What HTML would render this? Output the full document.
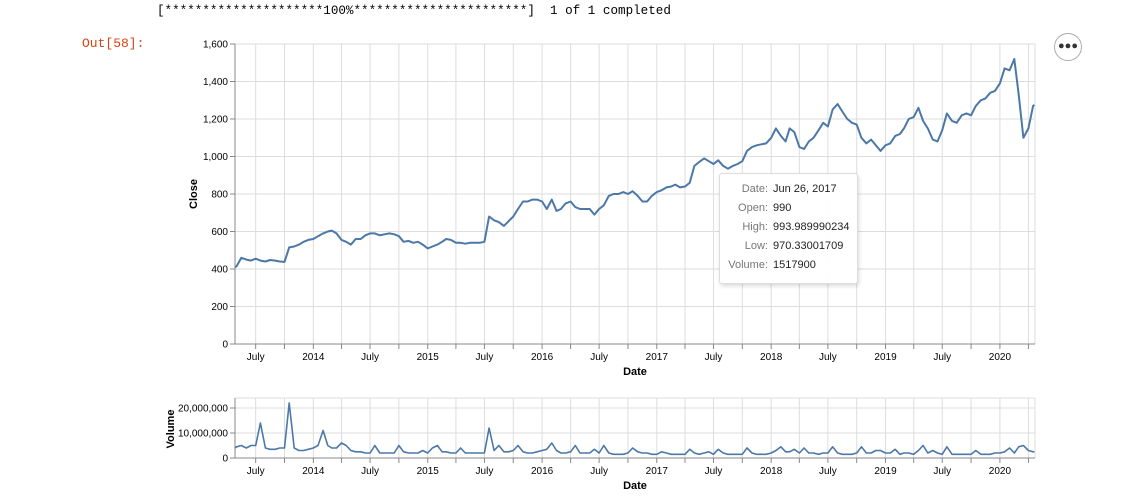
<!DOCTYPE html>
<html><head><meta charset="utf-8">
<style>
body{margin:0;background:#fff;width:1136px;height:499px;overflow:hidden;position:relative;font-family:"Liberation Sans",sans-serif;}
.hdr{position:absolute;left:157px;top:4px;font-family:"Liberation Mono",monospace;font-size:12.6px;color:#000;white-space:pre;}
.out{position:absolute;left:82px;top:36px;font-family:"Liberation Mono",monospace;font-size:13px;color:#d84315;}
.menu{position:absolute;left:1054px;top:33px;width:26px;height:26px;border:1px solid #aaa;border-radius:50%;background:#fff;text-align:center;line-height:25px;font-size:11px;font-weight:bold;letter-spacing:0px;color:#333;}
.tip{position:absolute;left:719px;top:173px;width:137px;height:109px;background:rgba(255,255,255,0.96);border:1px solid #ddd;border-radius:3px;box-shadow:1px 2px 4px rgba(0,0,0,0.15);font-size:11px;}
.tip div{position:absolute;left:0;width:100%;height:16px}
.tip .k{position:absolute;right:89px;color:#777;}
.tip .v{position:absolute;left:53px;color:#222;}
</style></head><body>
<div class="hdr">[*********************100%***********************]  1 of 1 completed</div>
<div class="out">Out[58]:</div>
<div class="menu">●●●</div>
<svg id="chart" width="1136" height="499" style="position:absolute;left:0;top:0"></svg>
<div class="tip">
<div style="top:9px"><span class="k">Date:</span><span class="v">Jun 26, 2017</span></div>
<div style="top:28px"><span class="k">Open:</span><span class="v">990</span></div>
<div style="top:47px"><span class="k">High:</span><span class="v">993.989990234</span></div>
<div style="top:66px"><span class="k">Low:</span><span class="v">970.33001709</span></div>
<div style="top:85px"><span class="k">Volume:</span><span class="v">1517900</span></div>
</div>
<script>
const closeVals = [410,
415,460, 450,445, 455,445, 440,448, 445,440, 438,515, 520,530, 545,555,
560,575, 590,600, 605,590, 555,545, 530,560, 560,580, 590,590, 580,585, 590,585, 575,545, 550,540, 545,530,
510,520, 530,545, 560,555, 540,540, 535,540, 540,540, 545,680, 660,650, 630,655, 680,720, 760,760, 770,770,
760,720, 770,710, 720,750, 760,730, 720,720, 720,690, 720,740, 790,800, 800,810, 800,815, 790,760, 760,790,
810,820, 835,840, 850,835, 840,860, 950,970, 990,975, 960,980, 950,935, 950,960, 975,1030, 1050,1060, 1065,1070,
1100,1150, 1110,1080, 1150,1130, 1050,1040, 1080,1100, 1140,1180, 1160,1250, 1280,1240, 1200,1180, 1170,1100, 1070,1090, 1060,1030,
1060,1070, 1110,1120, 1150,1200, 1210,1260, 1190,1150, 1090,1080, 1140,1230, 1190,1180, 1220,1230, 1220,1270, 1300,1310, 1340,1350,
1390,1470, 1460,1520, 1330,1100, 1150,1270,
1275];
const volumeM = [4,
4.5,5, 4,5, 5,14, 4,3.5, 3.5,4, 4,22, 4,3, 3,3.5,
4,5, 11,5, 4,4, 6,5, 3,2.5, 2.5,2, 2,5, 2,2, 2,2, 5,2.5, 2,2, 2,3,
2,4, 5,2.5, 2.5,2, 2,4, 2,2, 2,2, 2,12, 3,5, 2.5,2.5, 3,5, 2.5,2, 2,2.5,
3,3.5, 6,3, 2,2, 2.5,5, 2,2, 2,3.5, 2,5, 2,1.5, 1.5,1.5, 2,4, 2.5,2, 2,1.5,
1.5,2.5, 2,1.5, 1.5,1.5, 1.5,3.5, 2,1.5, 2,2.5, 1.5,3.5, 2,1.5, 1.5,1.5, 1.5,4, 2,1.5, 1.5,1.5,
2,3, 4.5,2.5, 2.5,3.5, 2,4, 2,2, 1.5,2, 2,4.5, 2,1.5, 1.5,1.5, 2,4.5, 2,2, 3,3,
2,2, 3.5,1.5, 2,2, 1.5,3, 5,2, 3,2, 1.5,4.5, 1.5,1.5, 1.5,1.5, 1.5,3, 1.5,1.5, 1.5,2,
2,2.5, 4,2, 4.5,5, 3,2.5,
2.5];
const closeTicks = [0,200,400,600,800,1000,1200,1400,1600];
const volTicks = [0,10000000,20000000];
const startDate = "2013-04-26", endDate = "2020-04-20";

const dates = [new Date(startDate)];
for (let y = 2013, m = 4; !(y === 2020 && m === 4); ) {
  dates.push(new Date(Date.UTC(y, m, 1)));
  dates.push(new Date(Date.UTC(y, m, 16)));
  m++; if (m === 12) { m = 0; y++; }
}
dates.push(new Date(endDate));

const svg = document.getElementById('chart');
const NS = 'http://www.w3.org/2000/svg';
const t0 = new Date(startDate).getTime(), t1 = new Date("2020-04-22").getTime();
const X0 = 235, X1 = 1035;
const xs = d => X0 + (d.getTime() - t0) / (t1 - t0) * (X1 - X0);
const yMain = v => 344 - v / 1600 * 300;
const yVol = v => 458 - v / 10000000 * 25;

function mk(tag, attrs, parent) {
  const e = document.createElementNS(NS, tag);
  for (const k in attrs) e.setAttribute(k, attrs[k]);
  (parent || svg).appendChild(e);
  return e;
}
function txt(s, x, y, anchor, size, weight, rot) {
  const t = mk('text', {x: x, y: y, 'text-anchor': anchor, 'font-size': size, 'font-weight': weight || 'normal', fill: '#000', 'font-family': 'Liberation Sans, sans-serif'});
  if (rot) t.setAttribute('transform', 'rotate(-90 ' + x + ' ' + y + ')');
  t.textContent = s;
  return t;
}

const quarters = [];
for (let y = 2013; y <= 2020; y++) for (let m = 0; m < 12; m += 3) {
  const d = new Date(Date.UTC(y, m, 1));
  if (d.getTime() > t0 && d.getTime() < t1) quarters.push(d);
}

function panel(top, bottom, ticks, yf, fmt, name) {
  const g = mk('g', {});
  
  
  ticks.forEach(v => {
    mk('line', {x1: X0, x2: X1, y1: yf(v), y2: yf(v), stroke: '#ddd', 'stroke-width': 1}, g);
    mk('line', {x1: X0 - 5, x2: X0, y1: yf(v), y2: yf(v), stroke: '#888'}, g);
    const t = txt(fmt(v), X0 - 7, yf(v) + 3.5, 'end', 10);
    
    
  });
  mk('line', {x1: X0, x2: X1, y1: top, y2: top, stroke: '#ddd'}, g);
  mk('line', {x1: X1, x2: X1, y1: top, y2: bottom, stroke: '#ddd'}, g);
  quarters.forEach(d => {
    const x = xs(d);
    mk('line', {x1: x, x2: x, y1: top, y2: bottom, stroke: '#ddd'}, g);
    mk('line', {x1: x, x2: x, y1: bottom, y2: bottom + 5, stroke: '#888'}, g);
    const m = d.getUTCMonth();
    if (m === 0 || m === 6) {
      const t = txt(m === 0 ? String(d.getUTCFullYear()) : 'July', x, bottom + 16, 'middle', 10);
      
      
    }
  });
  mk('line', {x1: X0, x2: X1, y1: bottom, y2: bottom, stroke: '#888'}, g);
  mk('line', {x1: X0, x2: X0, y1: top, y2: bottom, stroke: '#888'}, g);
}

panel(44, 344, closeTicks, yMain, v => v.toLocaleString('en-US'), 'close');
panel(398, 458, volTicks, yVol, v => v.toLocaleString('en-US'), 'volume');

const p1 = mk('path', {d: closeVals.map((v, i) => (i ? 'L' : 'M') + xs(dates[i]).toFixed(1) + ',' + yMain(v).toFixed(1)).join(''), fill: 'none', stroke: '#4c78a8', 'stroke-width': 2, 'stroke-linejoin': 'round'});


const p2 = mk('path', {d: volumeM.map((v, i) => (i ? 'L' : 'M') + xs(dates[i]).toFixed(1) + ',' + yVol(v * 1e6).toFixed(1)).join(''), fill: 'none', stroke: '#4c78a8', 'stroke-width': 1.6, 'stroke-linejoin': 'round'});



let t;
t = txt('Close', 197, 194, 'middle', 11, 'bold', true);


t = txt('Date', 635, 375, 'middle', 11, 'bold');


t = txt('Volume', 174, 429, 'middle', 11, 'bold', true);


t = txt('Date', 635, 489, 'middle', 11, 'bold');


</script>
</body></html>
